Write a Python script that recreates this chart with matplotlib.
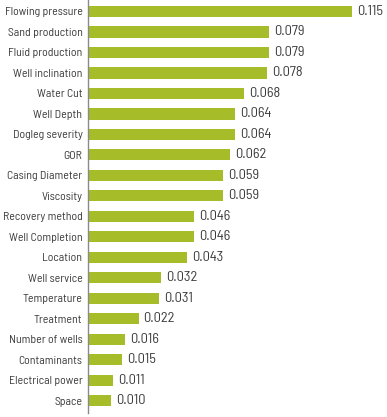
import matplotlib
matplotlib.use("Agg")
import matplotlib.pyplot as plt

factors = [
    "Flowing pressure", "Sand production", "Fluid production", "Well inclination",
    "Water Cut", "Well Depth", "Dogleg severity", "GOR", "Casing Diameter",
    "Viscosity", "Recovery method", "Well Completion", "Location", "Well service",
    "Temperature", "Treatment", "Number of wells", "Contaminants",
    "Electrical power", "Space",
]
importance = [
    0.115, 0.079, 0.079, 0.078, 0.068, 0.064, 0.064, 0.062, 0.059, 0.059,
    0.046, 0.046, 0.043, 0.032, 0.031, 0.022, 0.016, 0.015, 0.011, 0.010,
]

BAR = "#a6bc29"
TXT = "#3c3c3c"

plt.rcParams["font.family"] = ["Barlow Semi Condensed", "DejaVu Sans"]

fig = plt.figure(figsize=(3.87, 4.17), dpi=100)
ax = fig.add_axes([88 / 387, 4 / 417, 299 / 387, 413 / 417])

pos = list(range(len(factors)))
ax.barh(pos, importance, height=0.54, color=BAR)
ax.set_xlim(0, 299 / 2296)
ax.set_ylim(19.59, -0.561)

for p, v in zip(pos, importance):
    ax.text(v + 0.0022, p, f"{v:.3f}", va="center", ha="left", fontsize=10.3, color=TXT)

ax.set_yticks(pos)
ax.set_yticklabels(factors, fontsize=8.5, color=TXT)
ax.tick_params(axis="y", length=0, pad=4)
ax.set_xticks([])
for s in ["top", "right", "bottom"]:
    ax.spines[s].set_visible(False)
ax.spines["left"].set_color("#8a8a8a")
ax.spines["left"].set_linewidth(1.0)

fig.savefig("out.png", dpi=100)
